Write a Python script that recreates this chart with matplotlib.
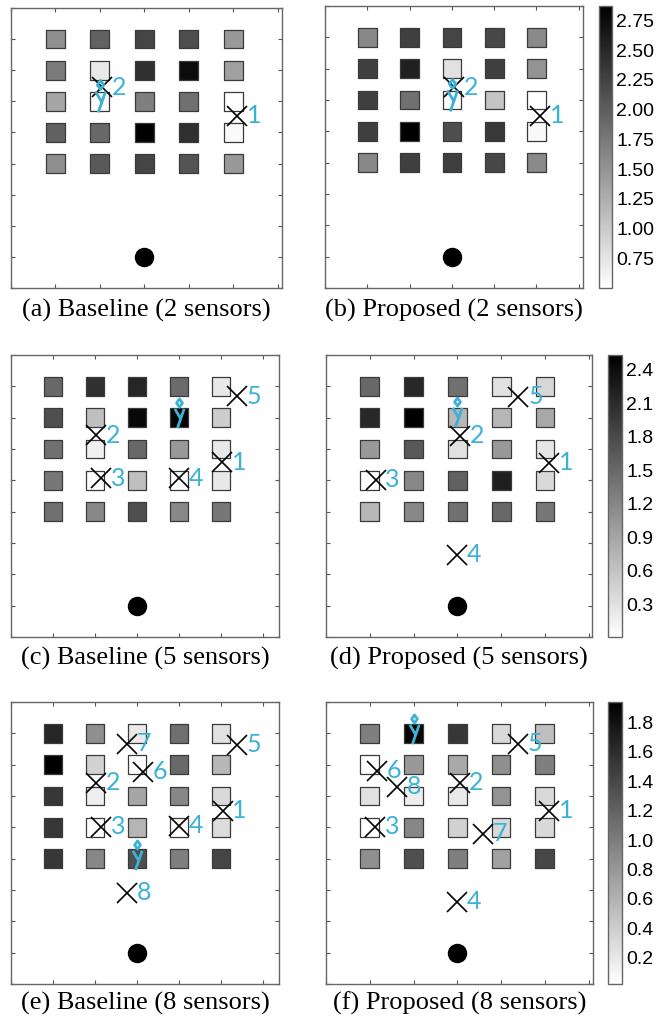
import matplotlib
matplotlib.use('Agg')
import matplotlib.pyplot as plt
from matplotlib.path import Path
from matplotlib.colors import Normalize
from matplotlib.cm import ScalarMappable

# grid of candidate positions (columns x, rows y from top)
grid_x = [1, 2, 3, 4, 5]
grid_y = [8, 7, 6, 5, 4]
source_xy = (3, 1)

# values shown in each square (rows top -> bottom)
vals_a = [[1.54, 1.97, 2.23, 2.14, 1.45],
          [1.73, 0.71, 2.42, 2.75, 1.38],
          [1.33, 0.55, 1.69, 1.83, 0.50],
          [1.97, 1.90, 2.87, 2.42, 0.55],
          [1.54, 2.04, 2.23, 2.09, 1.45]]
vals_b = [[1.61, 2.28, 2.23, 2.21, 1.59],
          [2.28, 2.57, 0.78, 2.28, 1.50],
          [2.28, 1.83, 0.52, 1.05, 0.50],
          [2.28, 2.87, 2.14, 2.35, 0.57],
          [1.61, 2.28, 2.28, 2.21, 1.59]]
vals_c = [[1.50, 2.05, 2.15, 1.47, 0.24],
          [1.75, 0.64, 2.45, 2.48, 0.51],
          [1.42, 0.16, 1.50, 1.02, 0.24],
          [1.35, 0.02, 0.64, 0.01, 0.24],
          [1.42, 1.19, 1.75, 1.19, 1.35]]
vals_d = [[1.50, 2.13, 1.42, 0.31, 0.41],
          [2.13, 2.53, 0.72, 0.72, 0.87],
          [1.02, 1.65, 0.31, 1.02, 0.26],
          [0.01, 1.19, 1.57, 2.22, 0.39],
          [0.72, 1.19, 1.42, 1.50, 1.35]]
vals_e = [[1.65, 0.86, 0.19, 1.10, 0.25],
          [1.94, 0.37, 0.02, 1.15, 0.56],
          [1.52, 0.15, 0.69, 0.92, 0.31],
          [1.52, 0.02, 0.58, 0.02, 0.29],
          [1.52, 0.92, 1.34, 0.98, 1.42]]
vals_f = [[0.98, 1.90, 1.52, 0.31, 0.50],
          [0.04, 0.79, 0.67, 0.86, 0.98],
          [0.25, 0.15, 0.19, 0.83, 0.31],
          [0.02, 0.92, 0.37, 0.31, 0.31],
          [0.86, 1.34, 0.98, 0.73, 1.40]]

# sensor positions (label = index + 1)
sens_a_x = [5.09, 2.05]
sens_a_y = [5.53, 6.46]
sens_b_x = [5.08, 3.05]
sens_b_y = [5.50, 6.40]
sens_c_x = [5.02, 2.02, 2.14, 4.00, 5.38]
sens_c_y = [5.58, 6.44, 5.06, 5.06, 7.69]
sens_d_x = [5.10, 3.06, 1.13, 3.00, 4.39]
sens_d_y = [5.56, 6.42, 5.02, 2.62, 7.67]
sens_e_x = [5.04, 2.02, 2.14, 4.00, 5.38, 3.14, 2.76, 2.76]
sens_e_y = [5.53, 6.42, 5.02, 5.05, 7.64, 6.77, 7.67, 2.91]
sens_f_x = [5.09, 3.05, 1.12, 3.00, 4.38, 1.17, 3.58, 1.63]
sens_f_y = [5.53, 6.42, 5.02, 2.62, 7.67, 6.81, 4.79, 6.29]

# target positions
target_a = (2.0, 6.17)
target_b = (3.0, 6.17)
target_c = (4.0, 7.16)
target_d = (3.0, 7.17)
target_e = (3.0, 4.12)
target_f = (2.0, 8.13)

captions = ['(a) Baseline (2 sensors)', '(b) Proposed (2 sensors)',
            '(c) Baseline (5 sensors)', '(d) Proposed (5 sensors)',
            '(e) Baseline (8 sensors)', '(f) Proposed (8 sensors)']

cbar_ranges = [(0.50, 2.87), (0.01, 2.53), (0.02, 1.94)]
cbar_ticks = [[0.75, 1.00, 1.25, 1.50, 1.75, 2.00, 2.25, 2.50, 2.75],
              [0.3, 0.6, 0.9, 1.2, 1.5, 1.8, 2.1, 2.4],
              [0.2, 0.4, 0.6, 0.8, 1.0, 1.2, 1.4, 1.6, 1.8]]
cbar_fmt = ['%.2f', '%.1f', '%.1f']

cyan = '#3ab2d6'

# target glyph: small diamond above a "y"
tverts = [(0, 1.0), (0.2, 0.72), (0, 0.44), (-0.2, 0.72), (0, 1.0),
          (-0.32, 0.32), (0.083, -0.36),
          (0.32, 0.32), (-0.14, -1.0)]
tcodes = [Path.MOVETO, Path.LINETO, Path.LINETO, Path.LINETO, Path.CLOSEPOLY,
          Path.MOVETO, Path.LINETO, Path.MOVETO, Path.LINETO]
target_marker = Path(tverts, tcodes)

W, H = 670, 1022
fig = plt.figure(figsize=(W / 100, H / 100), dpi=100)


def px_axes(l, t, r, b):
    return fig.add_axes([l / W, 1 - b / H, (r - l) / W, (b - t) / H])


# pixel boxes (left, top, right, bottom) and x extent for each panel
boxes = [(11, 8, 282, 288), (325, 6, 583, 288),
         (11, 355, 279, 637), (326, 355, 592, 637),
         (11, 702, 279, 984), (326, 702, 593, 984)]
xmax = [6.1, 6.1, 6.38, 6.07, 6.38, 6.1]
cbar_boxes = [(599, 6, 612, 288), (608, 355, 622, 637), (608, 702, 622, 984)]

panels = [(vals_a, sens_a_x, sens_a_y, target_a),
          (vals_b, sens_b_x, sens_b_y, target_b),
          (vals_c, sens_c_x, sens_c_y, target_c),
          (vals_d, sens_d_x, sens_d_y, target_d),
          (vals_e, sens_e_x, sens_e_y, target_e),
          (vals_f, sens_f_x, sens_f_y, target_f)]

for i, (vals, sx, sy, tgt) in enumerate(panels):
    row = i // 2
    vmin, vmax = cbar_ranges[row]
    ax = px_axes(*boxes[i])
    xs, ys, cs = [], [], []
    for r, yv in enumerate(grid_y):
        for c, xv in enumerate(grid_x):
            xs.append(xv)
            ys.append(yv)
            cs.append(vals[r][c])
    ax.scatter(xs, ys, c=cs, cmap='gray_r', vmin=vmin, vmax=vmax, marker='s',
               s=13.5 ** 2, edgecolors='#3a3a3a', linewidths=0.9, zorder=2)
    ax.plot(source_xy[0], source_xy[1], 'o', color='black', ms=13, zorder=3)
    ax.plot(sx, sy, 'x', color='black', ms=14, mew=1.2, ls='none', zorder=4)
    for k in range(len(sx)):
        ax.annotate(str(k + 1), (sx[k], sy[k]), xytext=(7, 0),
                    textcoords='offset points', va='center', ha='left',
                    color=cyan, fontsize=18, family='Lato', zorder=5)
    tsize = 23 if row == 0 else 21
    ax.plot(tgt[0], tgt[1], marker=target_marker, ms=tsize, mec=cyan,
            mfc='none', mew=2.0, ls='none', zorder=5)

    ax.set_xlim(0, xmax[i])
    ax.set_ylim(0, 9)
    ax.set_xticks(range(0, 7))
    ax.set_yticks(range(0, 10))
    ax.tick_params(direction='in', length=3, width=0.8, color='#555555',
                   top=True, right=True, labelbottom=False, labelleft=False)
    for sp in ax.spines.values():
        sp.set_color('#666666')
        sp.set_linewidth(1.0)

    l, t, r, b = boxes[i]
    cy = {0: 310, 1: 658, 2: 1003}[row]
    fig.text((l + r) / 2 / W, 1 - cy / H, captions[i], ha='center', va='center',
             fontsize=19, family='Liberation Serif')

for row in range(3):
    vmin, vmax = cbar_ranges[row]
    cax = px_axes(*cbar_boxes[row])
    sm = ScalarMappable(norm=Normalize(vmin, vmax), cmap='gray_r')
    cb = fig.colorbar(sm, cax=cax, ticks=cbar_ticks[row], format=cbar_fmt[row])
    cb.outline.set_edgecolor('#666666')
    cb.outline.set_linewidth(1.0)
    cax.tick_params(labelsize=14, length=0, pad=3)
    for lab in cax.get_yticklabels():
        lab.set_family('Liberation Sans')

fig.savefig('out.png', dpi=100)
